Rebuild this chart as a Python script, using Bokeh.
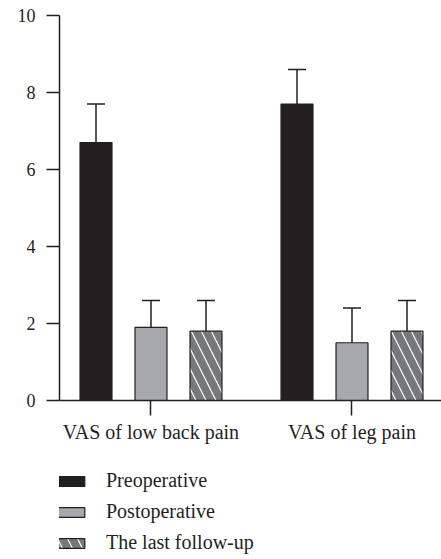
from bokeh.plotting import figure
from bokeh.layouts import column
from bokeh.models import Range1d, FixedTicker, Whisker, TeeHead, ColumnDataSource, Legend, LegendItem
from bokeh.embed import file_html
from bokeh.resources import INLINE

categories = ["VAS of low back pain", "VAS of leg pain"]
series = ["Preoperative", "Postoperative", "The last follow-up"]
preoperative = [6.7, 7.7]
preoperative_sd = [1.0, 0.9]
postoperative = [1.9, 1.5]
postoperative_sd = [0.7, 0.9]
last_followup = [1.8, 1.8]
last_followup_sd = [0.8, 0.8]
y_ticks = [0, 2, 4, 6, 8, 10]

FONT = "Liberation Serif"
INK = "#231f20"

p = figure(width=441, height=445, output_backend="svg", toolbar_location=None,
           x_range=Range1d(0.0448, 1.9453), y_range=Range1d(0, 10),
           min_border_left=59, min_border_right=0, min_border_top=15, min_border_bottom=45)
p.outline_line_color = None
p.xgrid.visible = False
p.ygrid.visible = False
p.background_fill_color = "white"

centers = [i + 0.5 for i in range(len(categories))]
offsets = [-0.2736, 0.0, 0.2736]
fills = [INK, "#a7a9ac", "#77787b"]
hatches = [None, None, "\\"]
values = [preoperative, postoperative, last_followup]
sds = [preoperative_sd, postoperative_sd, last_followup_sd]

def bar_style(k):
    kw = dict(fill_color=fills[k], line_color=INK, line_width=1.2)
    if hatches[k]:
        kw.update(hatch_pattern=hatches[k], hatch_color="white", hatch_scale=20, hatch_weight=1.2)
    return kw

for k in range(3):
    xs = [c + offsets[k] for c in centers]
    src = ColumnDataSource(dict(x=xs, top=values[k],
                                upper=[v + s for v, s in zip(values[k], sds[k])]))
    w = Whisker(source=src, base="x", lower="top", upper="upper", dimension="height",
                line_color=INK, line_width=1.5,
                upper_head=TeeHead(size=18, line_color=INK, line_width=1.5), lower_head=None)
    p.add_layout(w)
    p.vbar(x="x", top="top", width=0.159, source=src, **bar_style(k))

p.xaxis.ticker = FixedTicker(ticks=centers)
p.xaxis.major_label_overrides = {c: n for c, n in zip(centers, categories)}
p.xaxis.major_tick_out = 15
p.xaxis.major_tick_in = 0
p.xaxis.minor_tick_line_color = None
p.xaxis.axis_line_color = INK
p.xaxis.axis_line_width = 1.5
p.xaxis.major_tick_line_color = INK
p.xaxis.major_tick_line_width = 1.5
p.xaxis.major_label_standoff = 5
p.xaxis.major_label_text_font = FONT
p.xaxis.major_label_text_font_size = "20px"
p.xaxis.major_label_text_color = INK

p.yaxis.ticker = FixedTicker(ticks=y_ticks)
p.yaxis.major_tick_out = 13
p.yaxis.major_tick_in = 0
p.yaxis.minor_tick_line_color = None
p.yaxis.axis_line_color = INK
p.yaxis.axis_line_width = 1.5
p.yaxis.major_tick_line_color = INK
p.yaxis.major_tick_line_width = 1.5
p.yaxis.major_label_standoff = 11
p.yaxis.major_label_text_font = FONT
p.yaxis.major_label_text_font_size = "18px"
p.yaxis.major_label_text_color = INK

# legend panel
lg = figure(width=441, height=114, output_backend="svg", toolbar_location=None,
            x_axis_type=None, y_axis_type=None,
            x_range=Range1d(0, 1), y_range=Range1d(0, 1),
            min_border_left=0, min_border_right=0, min_border_top=0, min_border_bottom=0)
lg.grid.visible = False
lg.outline_line_color = None
items = []
for k in range(3):
    r = lg.vbar(x=[-10], top=[-10], bottom=[-11], width=0.1, **bar_style(k))
    items.append(LegendItem(label=series[k], renderers=[r]))
legend = Legend(items=items, location=(-8, 5), orientation="vertical",
                glyph_width=37, glyph_height=12, label_standoff=18, spacing=8,
                padding=0, margin=0, border_line_color=None, background_fill_alpha=0,
                label_text_font=FONT, label_text_font_size="20px", label_text_color=INK)
lg.add_layout(legend)

layout = column(p, lg, spacing=0)
open("out.html", "w").write(file_html(layout, INLINE))
